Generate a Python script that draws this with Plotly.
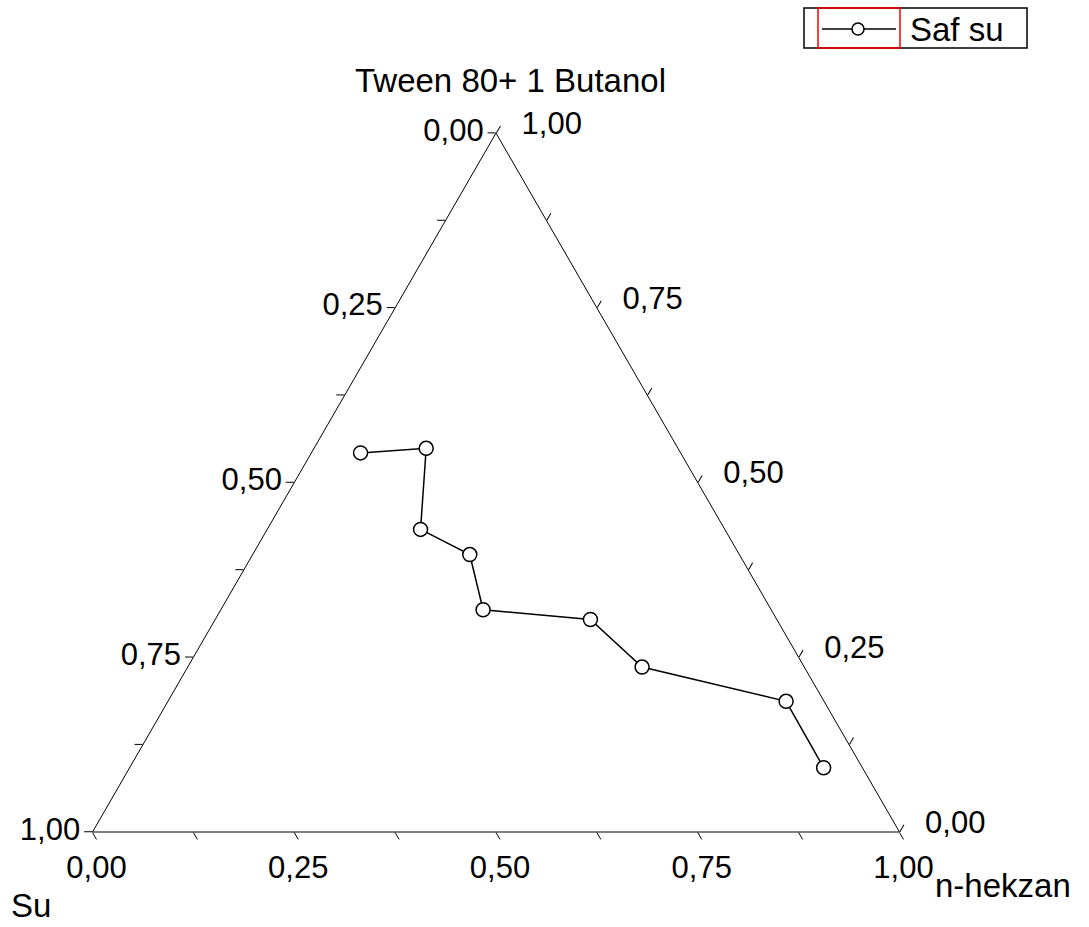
import plotly.graph_objects as go

# Composition of each measured point (mass fractions)
tween_butanol = [0.543, 0.549, 0.433, 0.397, 0.318, 0.304, 0.236, 0.187, 0.092]
su = [0.397, 0.312, 0.377, 0.334, 0.357, 0.231, 0.201, 0.047, 0.048]
n_hekzan = [0.061, 0.139, 0.190, 0.269, 0.325, 0.465, 0.563, 0.766, 0.860]

series_name = "Saf su"
corner_titles = ["Tween 80+ 1 Butanol", "Su", "n-hekzan"]

# Tick positions (major every 0.25, minor every 0.125)
tick_positions = [0.0, 0.125, 0.25, 0.375, 0.5, 0.625, 0.75, 0.875, 1.0]
major_ticks = [0.0, 0.25, 0.5, 0.75, 1.0]

W, H = 1089, 927


def tick_labels(values, prefix=""):
    # Each edge is read in the opposite direction, so the label is 1 - value
    out = []
    for v in values:
        if any(abs(v - m) < 1e-9 for m in major_ticks):
            out.append(prefix + f"{1 - v:.2f}".replace(".", ","))
        else:
            out.append("")
    return out


def px(x, y):
    """Pixel position -> paper coordinates."""
    return x / W, 1 - y / H


FONT = "Liberation Sans, Arial, sans-serif"

fig = go.Figure()
fig.add_trace(go.Scatterternary(
    a=tween_butanol,
    b=su,
    c=n_hekzan,
    mode="lines+markers",
    name=series_name,
    line=dict(color="black", width=1.5),
    marker=dict(symbol="circle", size=14, color="white",
                line=dict(color="black", width=1.5)),
    showlegend=False,
))

axis_common = dict(
    tickmode="array",
    tickvals=tick_positions,
    ticks="outside",
    ticklen=8,
    tickwidth=1,
    tickcolor="black",
    showgrid=False,
    showline=True,
    linecolor="black",
    linewidth=1,
    tickfont=dict(family=FONT, size=31, color="black"),
    min=0,
    title=dict(text=""),
)

# Corner titles
annotations = []
for text, (x, y) in zip(corner_titles, [(510, 80), (31, 905), (1003, 885)]):
    xp, yp = px(x, y)
    annotations.append(dict(
        text=text, x=xp, y=yp, xref="paper", yref="paper",
        xanchor="center", yanchor="middle", showarrow=False,
        font=dict(family=FONT, size=33, color="black"),
    ))

# Legend box: outer frame, red sample frame, sample line + marker, label
lx0, ly0 = px(804, 8)
lx1, ly1 = px(1027, 48)
rx0, _ = px(818, 8)
rx1, _ = px(900, 48)
sx0, sy = px(822, 29)
sx1, _ = px(896, 29)
cx0, cy0 = px(852, 23)
cx1, cy1 = px(864, 35)
tx, _ = px(908, 29)

shapes = [
    dict(type="rect", xref="paper", yref="paper", x0=lx0, x1=lx1, y0=ly1, y1=ly0,
         line=dict(color="black", width=1.5), fillcolor="white", layer="above"),
    dict(type="rect", xref="paper", yref="paper", x0=rx0, x1=rx1, y0=ly1, y1=ly0,
         line=dict(color="red", width=1.5), fillcolor="rgba(0,0,0,0)", layer="above"),
    dict(type="line", xref="paper", yref="paper", x0=sx0, x1=sx1, y0=sy, y1=sy,
         line=dict(color="black", width=1.5), layer="above"),
    dict(type="circle", xref="paper", yref="paper", x0=cx0, x1=cx1, y0=cy1, y1=cy0,
         line=dict(color="black", width=1.5), fillcolor="white", layer="above"),
]
annotations.append(dict(
    text=series_name, x=tx, y=sy, xref="paper", yref="paper",
    xanchor="left", yanchor="middle", showarrow=False,
    font=dict(family=FONT, size=33, color="black"),
))

# Triangle placement: base at y=832 px, side about 807 px, centred at x=496 px
side = 807
tri_h = side * 3 ** 0.5 / 2
dom_y = [1 - 832 / H, 1 - (832 - tri_h) / H]
dom_x = [(496 - 450) / W, (496 + 450) / W]

fig.update_layout(
    width=W,
    height=H,
    margin=dict(l=0, r=0, t=0, b=0),
    paper_bgcolor="white",
    plot_bgcolor="white",
    font=dict(family=FONT, color="black"),
    showlegend=False,
    ternary=dict(
        sum=1,
        bgcolor="white",
        domain=dict(x=dom_x, y=dom_y),
        aaxis=dict(ticktext=tick_labels(tick_positions), **axis_common),
        baxis=dict(ticktext=tick_labels(tick_positions), **axis_common),
        caxis=dict(ticktext=tick_labels(tick_positions, "\u00a0\u00a0"), **axis_common),
    ),
    shapes=shapes,
    annotations=annotations,
)

fig.write_html("out.html")
